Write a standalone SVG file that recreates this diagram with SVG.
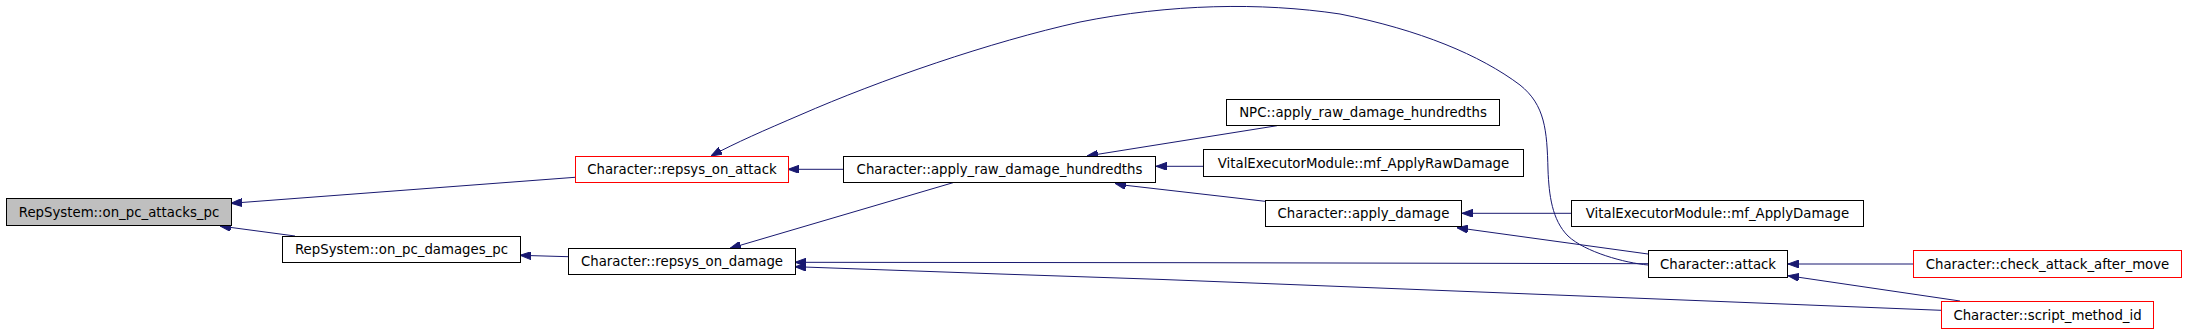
<svg xmlns="http://www.w3.org/2000/svg" width="2187" height="333" viewBox="0 0 2187 333">
<style>
.n rect{fill:#ffffff;stroke:#000000;stroke-width:1}
.n.r rect{stroke:#ff0000}
.n.g rect{fill:#bfbfbf}
.n text{font-family:"DejaVu Sans","Liberation Sans",sans-serif;font-size:13.3px;fill:#000000;text-anchor:middle}
#edges path{fill:none;stroke:#191970;stroke-width:1;marker-end:url(#ah)}
</style>
<defs>
<marker id="ah" viewBox="0 0 11 8" refX="11" refY="4" markerWidth="11" markerHeight="8" markerUnits="userSpaceOnUse" orient="auto">
<path d="M0,0 L11,4 L0,8 z" fill="#191970" stroke="#191970" stroke-width="1"/>
</marker>
</defs>
<rect x="0" y="0" width="2187" height="333" fill="#ffffff"/>
<g id="edges">
<path d="M575,177.3 L231,203.3"/>
<path d="M295,236 L220,226"/>
<path d="M568,256.7 L520,255.3"/>
<path d="M843,169.3 L788,169.3"/>
<path d="M1648,265 C1625,263 1585,252 1568,236 C1552,220 1549,195 1548,170 C1547,130 1545,105 1520,85 C1480,55 1420,30 1340,14 C1260,2 1170,4 1080,22 C990,42 880,80 800,115 C765,130 735,143 711,156"/>
<path d="M953,182.7 L730,248.3"/>
<path d="M1277,125.7 L1087,156"/>
<path d="M1203,166.3 L1156,166.3"/>
<path d="M1265,201.3 L1123,185 L1115,183.3"/>
<path d="M1571,213.3 L1462,213.3"/>
<path d="M1648,254 L1457,227.7"/>
<path d="M1648,263.7 L1197,262.7 L795,262.3"/>
<path d="M1941,310.3 L1640,298.3 L1163,279.5 L1000,274 L795,266.7"/>
<path d="M1913,264 L1788,264"/>
<path d="M1960,301 L1788,275.7"/>
</g>
<g id="on_pc_attacks_pc" class="n g"><rect x="6.5" y="198.5" width="225" height="27"/><text x="119" y="216.5">RepSystem::on_pc_attacks_pc</text></g>
<g id="on_pc_damages_pc" class="n"><rect x="282.5" y="236.5" width="238" height="26"/><text x="401.5" y="254">RepSystem::on_pc_damages_pc</text></g>
<g id="repsys_on_attack" class="n r"><rect x="575.5" y="156.5" width="213" height="26"/><text x="682" y="174">Character::repsys_on_attack</text></g>
<g id="apply_raw_damage_hundredths" class="n"><rect x="843.5" y="156.5" width="312" height="26"/><text x="999.5" y="174">Character::apply_raw_damage_hundredths</text></g>
<g id="repsys_on_damage" class="n"><rect x="568.5" y="248.5" width="227" height="26"/><text x="682" y="266">Character::repsys_on_damage</text></g>
<g id="npc_apply_raw" class="n"><rect x="1226.5" y="99.5" width="273" height="26"/><text x="1363" y="117">NPC::apply_raw_damage_hundredths</text></g>
<g id="vem_raw" class="n"><rect x="1203.5" y="149.5" width="320" height="27"/><text x="1363.5" y="167.5">VitalExecutorModule::mf_ApplyRawDamage</text></g>
<g id="apply_damage" class="n"><rect x="1265.5" y="200.5" width="196" height="26"/><text x="1363.5" y="218">Character::apply_damage</text></g>
<g id="vem_damage" class="n"><rect x="1571.5" y="200.5" width="292" height="26"/><text x="1717.5" y="218">VitalExecutorModule::mf_ApplyDamage</text></g>
<g id="attack" class="n"><rect x="1648.5" y="250.5" width="139" height="27"/><text x="1718" y="268.5">Character::attack</text></g>
<g id="check_attack_after_move" class="n r"><rect x="1913.5" y="250.5" width="268" height="27"/><text x="2047.5" y="268.5">Character::check_attack_after_move</text></g>
<g id="script_method_id" class="n r"><rect x="1941.5" y="301.5" width="212" height="27"/><text x="2047.5" y="319.5">Character::script_method_id</text></g>
</svg>
